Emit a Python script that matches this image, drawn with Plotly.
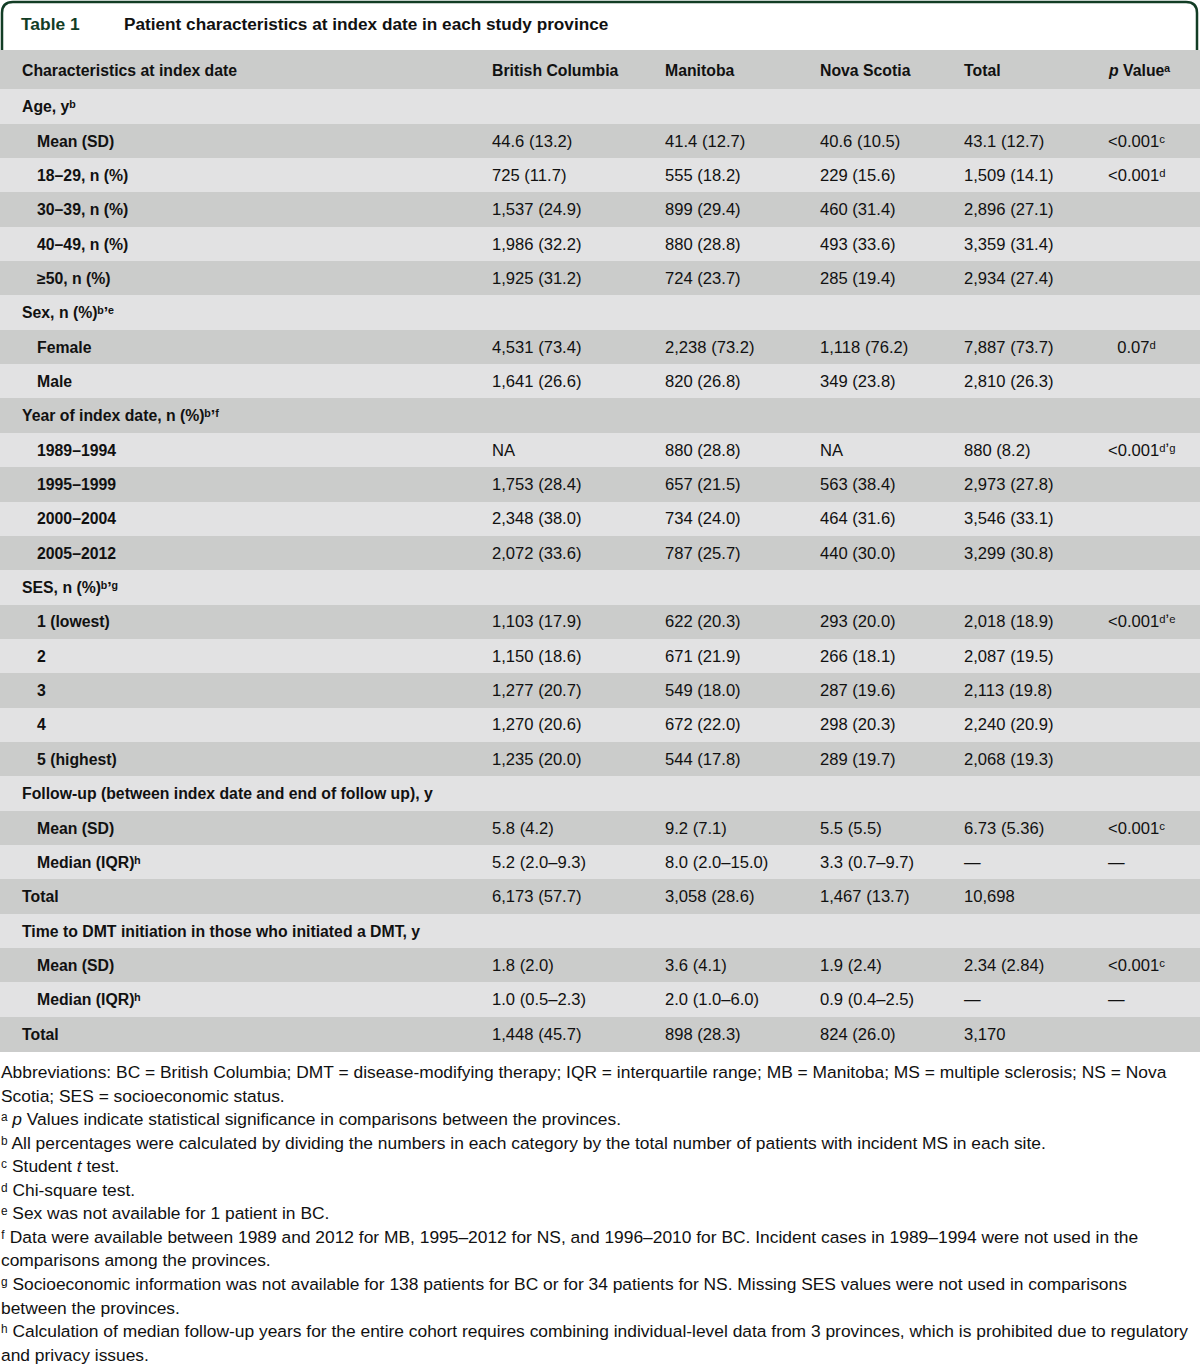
import plotly.graph_objects as go

# ---------------- data ----------------
header = ["Characteristics at index date", "British Columbia", "Manitoba", "Nova Scotia", "Total", "<i>p</i> Valueᵃ"]

labels = [
    "Age, yᵇ", "Mean (SD)", "18–29, n (%)", "30–39, n (%)", "40–49, n (%)", "≥50, n (%)",
    "Sex, n (%)ᵇʼᵉ", "Female", "Male",
    "Year of index date, n (%)ᵇʼᶠ", "1989–1994", "1995–1999", "2000–2004", "2005–2012",
    "SES, n (%)ᵇʼᵍ", "1 (lowest)", "2", "3", "4", "5 (highest)",
    "Follow-up (between index date and end of follow up), y", "Mean (SD)", "Median (IQR)ʰ", "Total",
    "Time to DMT initiation in those who initiated a DMT, y", "Mean (SD)", "Median (IQR)ʰ", "Total",
]
row_level = [0, 1, 1, 1, 1, 1,
             0, 1, 1,
             0, 1, 1, 1, 1,
             0, 1, 1, 1, 1, 1,
             0, 1, 1, 0,
             0, 1, 1, 0]

british_columbia = [
    "", "44.6 (13.2)", "725 (11.7)", "1,537 (24.9)", "1,986 (32.2)", "1,925 (31.2)",
    "", "4,531 (73.4)", "1,641 (26.6)",
    "", "NA", "1,753 (28.4)", "2,348 (38.0)", "2,072 (33.6)",
    "", "1,103 (17.9)", "1,150 (18.6)", "1,277 (20.7)", "1,270 (20.6)", "1,235 (20.0)",
    "", "5.8 (4.2)", "5.2 (2.0–9.3)", "6,173 (57.7)",
    "", "1.8 (2.0)", "1.0 (0.5–2.3)", "1,448 (45.7)",
]
manitoba = [
    "", "41.4 (12.7)", "555 (18.2)", "899 (29.4)", "880 (28.8)", "724 (23.7)",
    "", "2,238 (73.2)", "820 (26.8)",
    "", "880 (28.8)", "657 (21.5)", "734 (24.0)", "787 (25.7)",
    "", "622 (20.3)", "671 (21.9)", "549 (18.0)", "672 (22.0)", "544 (17.8)",
    "", "9.2 (7.1)", "8.0 (2.0–15.0)", "3,058 (28.6)",
    "", "3.6 (4.1)", "2.0 (1.0–6.0)", "898 (28.3)",
]
nova_scotia = [
    "", "40.6 (10.5)", "229 (15.6)", "460 (31.4)", "493 (33.6)", "285 (19.4)",
    "", "1,118 (76.2)", "349 (23.8)",
    "", "NA", "563 (38.4)", "464 (31.6)", "440 (30.0)",
    "", "293 (20.0)", "266 (18.1)", "287 (19.6)", "298 (20.3)", "289 (19.7)",
    "", "5.5 (5.5)", "3.3 (0.7–9.7)", "1,467 (13.7)",
    "", "1.9 (2.4)", "0.9 (0.4–2.5)", "824 (26.0)",
]
total = [
    "", "43.1 (12.7)", "1,509 (14.1)", "2,896 (27.1)", "3,359 (31.4)", "2,934 (27.4)",
    "", "7,887 (73.7)", "2,810 (26.3)",
    "", "880 (8.2)", "2,973 (27.8)", "3,546 (33.1)", "3,299 (30.8)",
    "", "2,018 (18.9)", "2,087 (19.5)", "2,113 (19.8)", "2,240 (20.9)", "2,068 (19.3)",
    "", "6.73 (5.36)", "—", "10,698",
    "", "2.34 (2.84)", "—", "3,170",
]
p_value = [
    "", "&lt;0.001ᶜ", "&lt;0.001ᵈ", "", "", "",
    "", "  0.07ᵈ", "",
    "", "&lt;0.001ᵈʼᵍ", "", "", "",
    "", "&lt;0.001ᵈʼᵉ", "", "", "", "",
    "", "&lt;0.001ᶜ", "—", "",
    "", "&lt;0.001ᶜ", "—", "",
]

footnotes = [
    "Abbreviations: BC = British Columbia; DMT = disease-modifying therapy; IQR = interquartile range; MB = Manitoba; MS = multiple sclerosis; NS = Nova",
    "Scotia; SES = socioeconomic status.",
    "ᵃ <i>p</i> Values indicate statistical significance in comparisons between the provinces.",
    "ᵇ All percentages were calculated by dividing the numbers in each category by the total number of patients with incident MS in each site.",
    "ᶜ Student <i>t</i> test.",
    "ᵈ Chi-square test.",
    "ᵉ Sex was not available for 1 patient in BC.",
    "ᶠ Data were available between 1989 and 2012 for MB, 1995–2012 for NS, and 1996–2010 for BC. Incident cases in 1989–1994 were not used in the",
    "comparisons among the provinces.",
    "ᵍ Socioeconomic information was not available for 138 patients for BC or for 34 patients for NS. Missing SES values were not used in comparisons",
    "between the provinces.",
    "ʰ Calculation of median follow-up years for the entire cohort requires combining individual-level data from 3 provinces, which is prohibited due to regulatory",
    "and privacy issues.",
]

# ---------------- layout constants ----------------
W, H = 1200, 1365
HEAD_TOP, HEAD_BOT = 50.0, 89.5
ROW_H = 34.35
COL_X = [None, 491, 664, 819, 963, 1107]
LABEL_X = [21, 36]
DARK, LIGHT = "#cbcccb", "#e2e2e3"
GREEN = "#123d25"
FONT = "Liberation Sans, Arial, DejaVu Sans, sans-serif"
FS_BOLD = 15.8
FS_REG = 16.6
FS_FOOT = 17.4

n = len(labels)
row_centers = [HEAD_BOT + (i + 0.5) * ROW_H for i in range(n)]
row_colors = [LIGHT if i % 2 == 0 else DARK for i in range(n)]

fig = go.Figure()

# header background + row backgrounds as horizontal bars
fig.add_trace(go.Bar(
    orientation="h",
    y=[(HEAD_TOP + HEAD_BOT) / 2] + row_centers,
    x=[W] * (n + 1),
    base=0,
    width=[HEAD_BOT - HEAD_TOP] + [ROW_H + 0.4] * n,
    marker=dict(color=[DARK] + row_colors, line=dict(width=0)),
    hoverinfo="skip",
    showlegend=False,
))

annotations = []


def add_text(x, y, text, bold=False, size=FS_REG, color="#111111", xanchor="left"):
    annotations.append(dict(
        x=x, y=y, xref="x", yref="y", text=text,
        showarrow=False, xanchor=xanchor, yanchor="middle",
        font=dict(family=FONT, size=size, color=color,
                  weight=("bold" if bold else "normal")),
        borderpad=0,
    ))


# header
hy = (HEAD_TOP + HEAD_BOT) / 2 + 1
add_text(LABEL_X[0], hy, header[0], bold=True, size=FS_BOLD)
for c in range(1, 6):
    add_text(COL_X[c], hy, header[c], bold=True, size=FS_BOLD)

cols = [british_columbia, manitoba, nova_scotia, total, p_value]
for i in range(n):
    y = row_centers[i]
    add_text(LABEL_X[row_level[i]], y, labels[i], bold=True, size=FS_BOLD)
    for c, col in enumerate(cols, start=1):
        if col[i]:
            add_text(COL_X[c], y, col[i], size=FS_REG)

# title
add_text(20, 24, "Table 1", bold=True, size=17.4, color=GREEN)
add_text(123, 24, "Patient characteristics at index date in each study province", bold=True, size=17.2)

# footnotes
FN_Y0, FN_DY = 1072, 23.55
for k, line in enumerate(footnotes):
    add_text(0, FN_Y0 + k * FN_DY, line, size=FS_FOOT)

# title box border (rounded top corners)
r = 11
path = (f"M 2,{HEAD_TOP} L 2,{2 + r} Q 2,2 {2 + r},2 "
        f"L {W - 3 - r},2 Q {W - 3},2 {W - 3},{2 + r} L {W - 3},{HEAD_TOP}")
shapes = [dict(type="path", path=path, xref="x", yref="y",
               line=dict(color=GREEN, width=2.5), layer="above")]

fig.update_layout(
    width=W, height=H,
    margin=dict(l=0, r=0, t=0, b=0),
    paper_bgcolor="white", plot_bgcolor="white",
    bargap=0,
    xaxis=dict(range=[0, W], visible=False, fixedrange=True),
    yaxis=dict(range=[H, 0], visible=False, fixedrange=True),
    annotations=annotations,
    shapes=shapes,
    showlegend=False,
)

fig.write_html(
    "out.html",
    config={"displayModeBar": False},
    post_script="document.body.style.margin='0';document.body.style.overflow='hidden';",
)
